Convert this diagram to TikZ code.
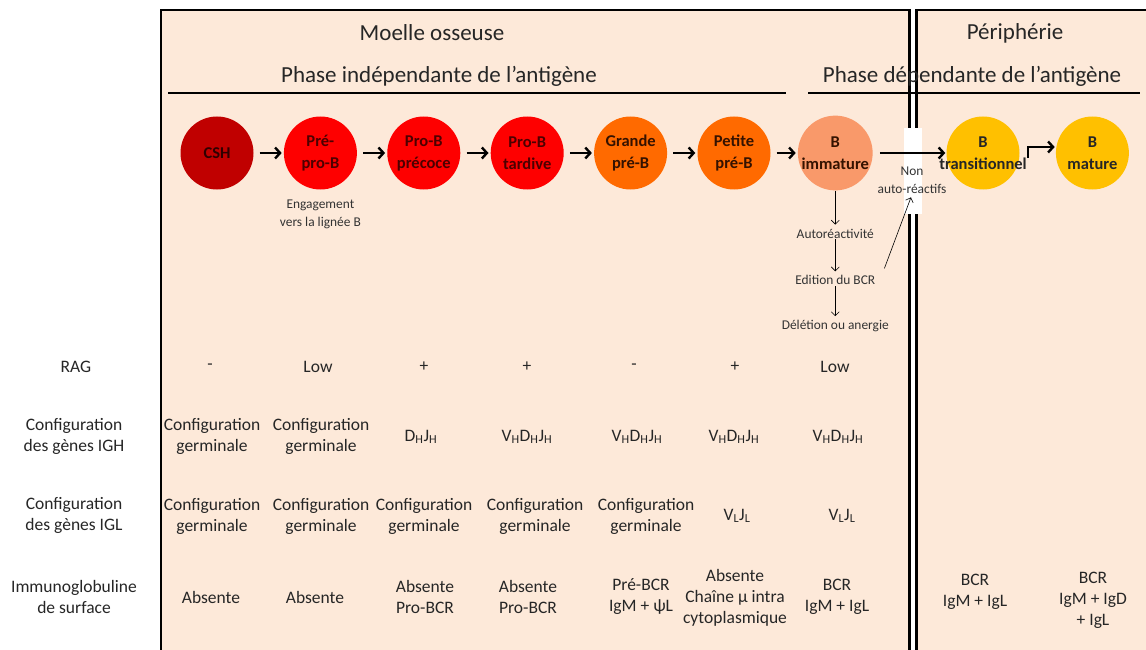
\documentclass[tikz,border=0pt]{standalone}
\usepackage{fontspec}
\setmainfont{Carlito}
\usepackage{tikz}
\usetikzlibrary{positioning, arrows.meta}
\definecolor{peach}{HTML}{FDE9D9}
\definecolor{cshred}{HTML}{C00000}
\definecolor{prored}{HTML}{FE0000}
\definecolor{preorange}{HTML}{FF6A00}
\definecolor{immsalmon}{HTML}{F9996A}
\definecolor{perigold}{HTML}{FFC000}
\definecolor{darkredtext}{HTML}{300000}
\definecolor{redtext}{HTML}{4C0000}
\definecolor{browntext}{HTML}{341200}
\tikzset{
    stage/.style={circle, minimum size=73pt, inner sep=0pt, align=center, font=\bfseries\fontsize{16.5}{22}\selectfont},
    stagelabel/.style={align=center, inner sep=0pt, font=\bfseries\fontsize{16.5}{22}\selectfont, text=black!85},
    cell/.style={align=center, font=\fontsize{17.5}{21}\selectfont, inner sep=0pt, text=black!85},
    note/.style={align=center, font=\fontsize{13.4}{18}\selectfont, inner sep=1pt, text=black!80},
    heading/.style={font=\fontsize{23}{27}\selectfont, inner sep=0pt, text=black!85},
    flow/.style={-{Straight Barb[length=5pt,width=11pt]}, line width=2.4pt},
    branch/.style={-{Straight Barb[length=4pt,width=8pt]}, line width=0.6pt, shorten >=3pt},
}

\begin{document}
\begin{tikzpicture}[x=1pt, y=-1pt]
\useasboundingbox (0,0) rectangle (1146,650);
\fill[white] (0,0) rectangle (1146,650);
\fill[peach] (161,10) rectangle (909.5,650);
\fill[peach] (916.5,10) rectangle (1146,650);
\draw[line width=2.2pt] (161,652) |- (909.5,10) -- (909.5,652);
\draw[line width=2.2pt] (916.5,652) |- (1150,10);
\fill[white] (904,128) rectangle (922,214);

\node[heading] (moelle) at (432,33) {Moelle osseuse};
\node[heading] (periph) at (1015,33) {Périphérie};
\node[heading] (indep) at (439,76) {Phase indépendante de l’antigène};
\node[heading] (dep) at (972,76) {Phase dépendante de l’antigène};
\draw[line width=2pt] (168,93) -- (786,93);
\draw[line width=2pt] (808,93) -- (1140,93);

\node[stage, fill=cshred, text=darkredtext] (csh) at (217,153) {CSH};
\node[stage, fill=prored, text=redtext, right=30pt of csh] (prepro) {Pré-\\pro-B};
\node[stage, fill=prored, text=redtext, right=30pt of prepro] (proearly) {Pro-B\\précoce};
\node[stage, fill=prored, text=redtext, right=30pt of proearly] (prolate) {Pro-B\\tardive};
\node[stage, fill=preorange, text=browntext, right=30pt of prolate] (grandpre) {Grande\\pré-B};
\node[stage, fill=preorange, text=browntext, right=30pt of grandpre] (petitepre) {Petite\\pré-B};
\node[stage, fill=immsalmon, text=browntext, right=27pt of petitepre] (bimm) {B\\immature};
\node[stage, fill=perigold, label={[stagelabel]center:{B\\transitionnel}}] (btrans) at (983,153) {};
\node[stage, fill=perigold, text=black!85, right=36pt of btrans] (bmat) {B\\mature};

\draw[flow, shorten <=6pt, shorten >=2pt] (csh) -- (prepro);
\draw[flow, shorten <=6pt, shorten >=2pt] (prepro) -- (proearly);
\draw[flow, shorten <=6pt, shorten >=2pt] (proearly) -- (prolate);
\draw[flow, shorten <=6pt, shorten >=2pt] (prolate) -- (grandpre);
\draw[flow, shorten <=6pt, shorten >=2pt] (grandpre) -- (petitepre);
\draw[flow, shorten <=6pt, shorten >=2pt] (petitepre) -- (bimm);
\draw[flow, shorten <=7pt, shorten >=1pt] (bimm) -- (btrans);
\draw[flow, shorten >=1pt] ([shift={(8pt,-5pt)}]btrans.east) |- ([yshift=6pt]bmat.west);

\node[note, below=9pt of prepro] (engage) {Engagement\\vers la lignée B};
\node[note, below=37pt of bimm] (autoreac) {Autoréactivité};
\node[note, below=35pt of autoreac] (edition) {Edition du BCR};
\node[note, below=33pt of edition] (deletion) {Délétion ou anergie};
\node[note] (nonauto) at (912,180) {Non\\auto-réactifs};
\draw[branch] (bimm) -- (autoreac);
\draw[branch] (autoreac) -- (edition);
\draw[branch] (edition) -- (deletion);
\draw[branch] ([shift={(8pt,6pt)}]edition.north east) -- (nonauto.south);

\node[cell] (ragl) at (76,367) {RAG};
\node[cell] (ighl) at (74,436) {Configuration\\des gènes IGH};
\node[cell] (igll) at (74,515) {Configuration\\des gènes IGL};
\node[cell] (igsl) at (74,597) {Immunoglobuline\\de surface};

\node[cell] (ragcsh) at (210,367) {-};
\node[cell] (ragprepro) at (318,367) {Low};
\node[cell] (ragproearly) at (424,367) {+};
\node[cell] (ragprolate) at (527,367) {+};
\node[cell] (raggrand) at (634,367) {-};
\node[cell] (ragpetite) at (735,367) {+};
\node[cell] (ragimm) at (835,367) {Low};

\node[cell] (ighcsh) at (212,436) {Configuration\\germinale};
\node[cell] (ighprepro) at (321,436) {Configuration\\germinale};
\node[cell] (ighproearly) at (421,437) {D\textsubscript{H}J\textsubscript{H}};
\node[cell] (ighprolate) at (527,437) {V\textsubscript{H}D\textsubscript{H}J\textsubscript{H}};
\node[cell] (ighgrand) at (637,437) {V\textsubscript{H}D\textsubscript{H}J\textsubscript{H}};
\node[cell] (ighpetite) at (734,437) {V\textsubscript{H}D\textsubscript{H}J\textsubscript{H}};
\node[cell] (ighimm) at (838,437) {V\textsubscript{H}D\textsubscript{H}J\textsubscript{H}};

\node[cell] (iglcsh) at (212,516) {Configuration\\germinale};
\node[cell] (iglprepro) at (321,516) {Configuration\\germinale};
\node[cell] (iglproearly) at (424,516) {Configuration\\germinale};
\node[cell] (iglprolate) at (535,516) {Configuration\\germinale};
\node[cell] (iglgrand) at (646,516) {Configuration\\germinale};
\node[cell] (iglpetite) at (737,516) {V\textsubscript{L}J\textsubscript{L}};
\node[cell] (iglimm) at (842,516) {V\textsubscript{L}J\textsubscript{L}};

\node[cell] (igscsh) at (211,597) {Absente};
\node[cell] (igsprepro) at (315,597) {Absente};
\node[cell] (igsproearly) at (425,597) {Absente\\Pro-BCR};
\node[cell] (igsprolate) at (528,597) {Absente\\Pro-BCR};
\node[cell] (igsgrand) at (641,597) {Pré-BCR\\IgM + ψL};
\node[cell] (igspetite) at (735,598) {Absente\\Chaîne μ intra\\cytoplasmique};
\node[cell] (igsimm) at (837,597) {BCR\\IgM + IgL};
\node[cell] (igstrans) at (975,592) {BCR\\IgM + IgL};
\node[cell] (igsmat) at (1093,600) {BCR\\IgM + IgD\\+ IgL};
\end{tikzpicture}
\end{document}
